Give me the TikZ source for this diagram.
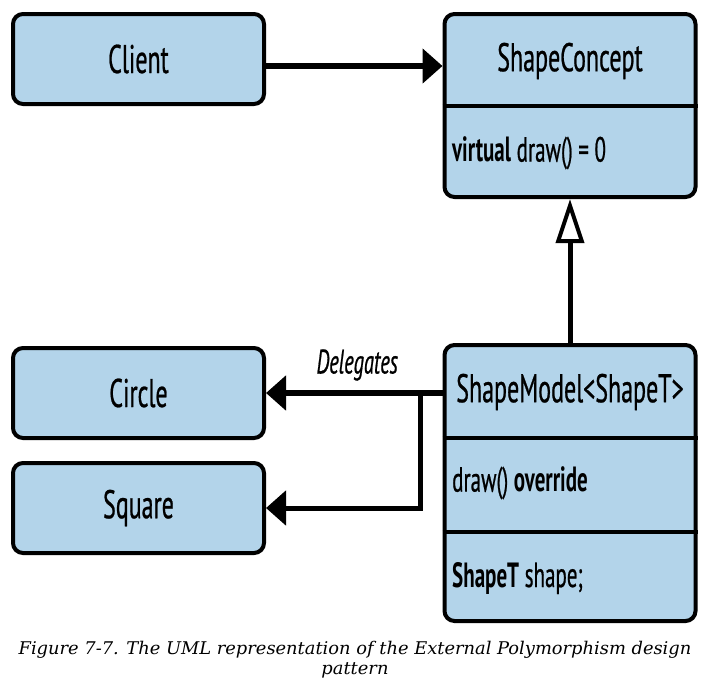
\documentclass[tikz,border=0pt]{standalone}
\usepackage{fontspec}
\usepackage{tikz}
\usetikzlibrary{arrows.meta}
\newfontfamily\boxfont[FakeStretch=0.6, UprightFeatures={FakeBold=0.6}, ItalicFeatures={FakeBold=0.6}]{PT Sans}
\newfontfamily\capfont[FakeStretch=1.02]{DejaVu Serif}
\definecolor{classblue}{RGB}{179, 212, 234}

\begin{document}
\begin{tikzpicture}[x=1pt, y=-1pt,
    box/.style={draw, line width=4pt, rounded corners=10pt, fill=classblue,
        minimum width=251pt, font=\boxfont\fontsize{40}{44}\selectfont},
    member/.style={anchor=west, inner sep=0pt, font=\boxfont\fontsize{35}{40}\selectfont},
    assoc/.style={line width=6pt, -{Triangle[length=20pt, width=34pt]}},
    inherit/.style={line width=5pt, -{Triangle[open, length=44pt, width=28pt, fill=white, line width=4pt]}}]
    \useasboundingbox (0,0) rectangle (701,681);

    % Classes on the left
    \node[box, minimum height=90pt] (client) at (138.5,59) {Client};
    \node[box, minimum height=90pt] (circle) at (138.5,393) {Circle};
    \node[box, minimum height=90pt] (square) at (138.5,508) {Square};

    % ShapeConcept
    \node[box, minimum height=183pt] (concept) at (570,105.5) {};
    \node[font=\boxfont\fontsize{40}{44}\selectfont] (concepttitle) at (570,61) {ShapeConcept};
    \node[member] (conceptdraw) at (452,153) {\bfseries virtual\mdseries{} draw() = 0};
    \draw[line width=4pt] (concept.west |- 0,106) -- (concept.east |- 0,106);

    % ShapeModel<ShapeT>
    \node[box, minimum height=276pt] (model) at (570,483) {};
    \node[font=\boxfont\fontsize{40}{44}\selectfont] (modeltitle) at (570,392) {ShapeModel<ShapeT>};
    \node[member] (modeldraw) at (452,483) {draw() \bfseries override};
    \node[member] (modelshape) at (452,578) {\bfseries ShapeT\mdseries{} shape;};
    \draw[line width=4pt] (model.west |- 0,438) -- (model.east |- 0,438);
    \draw[line width=4pt] (model.west |- 0,532) -- (model.east |- 0,532);

    % Connectors
    \draw[assoc] ([yshift=-7pt]client.east) -- ([yshift=-7pt]client.east -| concept.west);
    \draw[inherit] (model.north) -- (concept.south);
    \draw[assoc] (model.west |- circle) -- (circle.east)
        node[midway, above=6pt, xshift=3pt, font=\boxfont\itshape\fontsize{34}{38}\selectfont] (delegates) {Delegates};
    \coordinate (split) at (420,393);
    \draw[assoc, line width=5pt] (split) |- (square.east);

    % Caption
    \node[font=\capfont\itshape\fontsize{17.5}{20}\selectfont, align=center] (caption) at (355,660)
        {Figure 7-7. The UML representation of the External Polymorphism design\\pattern};
\end{tikzpicture}
\end{document}
